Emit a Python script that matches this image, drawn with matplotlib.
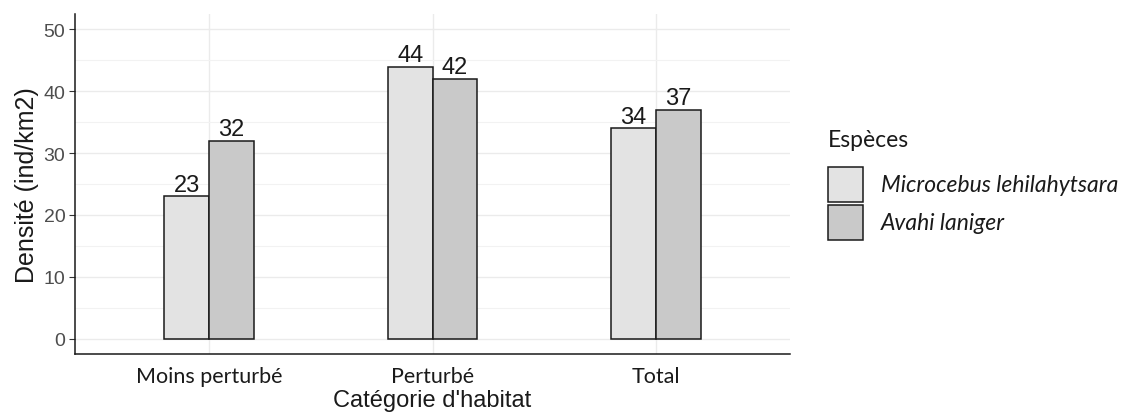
import matplotlib
matplotlib.use("Agg")
import matplotlib.pyplot as plt
import numpy as np
from matplotlib.patches import Rectangle
from matplotlib.ticker import MultipleLocator

categories = ["Moins perturbé", "Perturbé", "Total"]
species = ["Microcebus lehilahytsara", "Avahi laniger"]
microcebus = [23, 44, 34]
avahi = [32, 42, 37]
colors = ["#e3e3e3", "#c9c9c9"]

W, H = 1133, 414
fig = plt.figure(figsize=(W/100, H/100), dpi=100)
ax = fig.add_axes([75/W, 59/H, 715/W, 340/H])

x = np.arange(1, len(categories) + 1)
w = 0.2
for vals, col, off in [(microcebus, colors[0], -w/2), (avahi, colors[1], w/2)]:
    bars = ax.bar(x + off, vals, width=w, color=col, edgecolor="#1a1a1a", linewidth=1.1, zorder=3)
    for b, v in zip(bars, vals):
        ax.text(b.get_x() + b.get_width()/2, v + 0.1, str(v), ha="center", va="bottom",
                fontsize=17, family="Liberation Sans", color="#1a1a1a", zorder=4)

ax.set_xlim(0.4, 3.6)
ax.set_ylim(-2.5, 52.5)
ax.yaxis.set_major_locator(MultipleLocator(10))
ax.yaxis.set_minor_locator(MultipleLocator(5))
ax.set_xticks(x)
ax.set_xticklabels(categories, family="Lato", fontsize=15.5, color="#1a1a1a")
ax.grid(True, which="major", color="#ebebeb", linewidth=1.0, zorder=0)
ax.grid(True, which="minor", axis="y", color="#f2f2f2", linewidth=0.8, zorder=0)
ax.set_axisbelow(True)
for s in ["top", "right"]:
    ax.spines[s].set_visible(False)
for s in ["left", "bottom"]:
    ax.spines[s].set_color("#1a1a1a")
    ax.spines[s].set_linewidth(1.1)
ax.tick_params(axis="y", which="major", length=4, color="#333333", labelsize=14, labelcolor="#4d4d4d", pad=3)
ax.tick_params(axis="y", which="minor", length=0)
ax.tick_params(axis="x", length=0, pad=9)
for t in ax.get_yticklabels():
    t.set_family("Liberation Sans")
ax.set_ylabel("Densité (ind/km2)", family="Liberation Sans", fontsize=18, color="#1a1a1a", labelpad=3)
ax.set_xlabel("Catégorie d'habitat", family="Liberation Sans", fontsize=17, color="#1a1a1a", labelpad=2)

# legend (drawn as figure artists, pixel layout from top-left)
def fx(px):
    return px / W

def fy(py):
    return 1 - py / H

fig.text(fx(828), fy(141), "Espèces", family="Lato", fontsize=16.5, color="#1a1a1a",
         ha="left", va="center")
key_tops = [168, 206]
key_size = 35
for top, col, name in zip(key_tops, colors, species):
    fig.add_artist(Rectangle((fx(828), fy(top + key_size)), key_size / W, key_size / H,
                             transform=fig.transFigure, facecolor=col, edgecolor="#1a1a1a",
                             linewidth=1.1))
    fig.text(fx(881), fy(top + key_size / 2), name, family="Lato", style="italic",
             fontsize=16.5, color="#1a1a1a", ha="left", va="center")

fig.savefig("out.png", dpi=100)
